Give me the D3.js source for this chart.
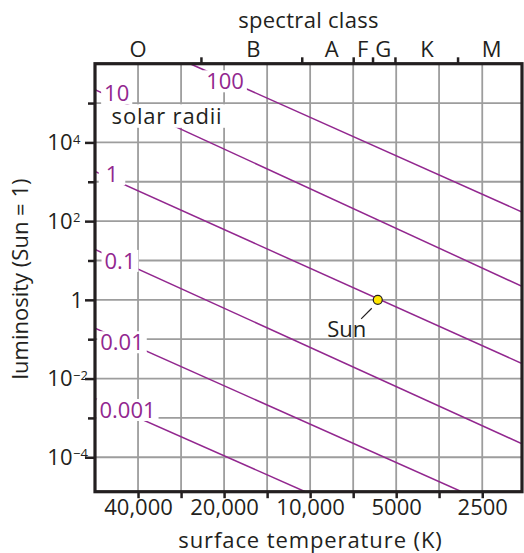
<!DOCTYPE html>
<html lang="en">

<head>
    <meta charset="utf-8">
    <title>solar radii</title>
    <script src="https://cdn.jsdelivr.net/npm/d3@7"></script>
    <style>
        body {
            margin: 0;
            background: #fff;
        }

        svg text {
            font-family: "Open Sans", sans-serif;
        }
    </style>
</head>

<body>
    <script>
        // temperature grid (K), one line every half octave
        var gridTemps = [40000, 28280, 20000, 14140, 10000, 7070, 5000, 3540, 2500];
        var tempLabels = [40000, 20000, 10000, 5000, 2500];
        // luminosity grid, powers of ten
        var lumExps = [-4, -3, -2, -1, 0, 1, 2, 3, 4, 5];
        var lumLabelExps = [-4, -2, 0, 2, 4];
        // spectral classes: label positions and boundaries (K)
        var classNames = ['O', 'B', 'A', 'F', 'G', 'K', 'M'];
        var classTemps = [40000, 15800, 8400, 6550, 5550, 3900, 2320];
        var classBounds = [24100, 10700, 7070, 6050, 5050, 3050];
        // lines of constant radius, [T, L] at both ends
        var radii = [100, 10, 1, 0.1, 0.01, 0.001];
        var radiusStart = [[26300, 1e6], [56570, 2.2e5], [56570, 1820], [56570, 19], [56570, 0.19], [56570, 0.0031]];
        var radiusEnd = [[1815, 170], [1815, 2.2], [1815, 0.024], [1815, 2.2e-4], [2950, 1.33e-5], [10400, 1.33e-5]];
        var sun = [5800, 1];

        var W = 524, H = 553;
        var plot = { left: 95, right: 522, top: 63.7, bottom: 491.7 };
        var ink = '#231f20', purple = '#92278f', gridColor = '#9d9d9d';

        var svg = d3.select('body').append('svg')
            .attr('width', W)
            .attr('height', H);

        var x = d3.scaleLog().domain([56570, 1815]).range([plot.left, plot.right]);
        var y = d3.scaleLog().domain([1e6, Math.pow(10, -4.875)]).range([plot.top, plot.bottom]);

        svg.append('defs').append('clipPath').attr('id', 'clip')
            .append('rect')
            .attr('x', plot.left).attr('y', plot.top)
            .attr('width', plot.right - plot.left)
            .attr('height', plot.bottom - plot.top);

        // grid
        var grid = svg.append('g').attr('stroke', gridColor).attr('stroke-width', 1.8);
        grid.selectAll('line.v').data(gridTemps).enter().append('line')
            .attr('class', 'v')
            .attr('x1', d => x(d)).attr('x2', d => x(d))
            .attr('y1', plot.top).attr('y2', plot.bottom);
        grid.selectAll('line.h').data(lumExps).enter().append('line')
            .attr('class', 'h')
            .attr('x1', plot.left).attr('x2', plot.right)
            .attr('y1', e => y(Math.pow(10, e))).attr('y2', e => y(Math.pow(10, e)));

        // radius lines
        var lines = radii.map((r, i) => ({
            r: r,
            p0: [x(radiusStart[i][0]), y(radiusStart[i][1])],
            p1: [x(radiusEnd[i][0]), y(radiusEnd[i][1])]
        }));
        svg.append('g')
            .attr('clip-path', 'url(#clip)')
            .selectAll('line')
            .data(lines)
            .enter().append('line')
            .attr('x1', d => d.p0[0]).attr('y1', d => d.p0[1])
            .attr('x2', d => d.p1[0]).attr('y2', d => d.p1[1])
            .attr('stroke', purple)
            .attr('stroke-width', 1.5);

        function yOn(d, px) {
            var t = (px - d.p0[0]) / (d.p1[0] - d.p0[0]);
            return d.p0[1] + t * (d.p1[1] - d.p0[1]);
        }

        // label centre x and vertical nudge from the line
        var labelPlace = [[225, 2], [116.7, -6.6], [112, -5], [120, 0], [122, 2], [127.5, -3]];
        var labelPad = [3, 3, 7, 3, 3, 3];
        var labs = svg.append('g').selectAll('g')
            .data(lines)
            .enter().append('g')
            .attr('transform', (d, i) => `translate(${labelPlace[i][0]},${yOn(d, labelPlace[i][0]) + labelPlace[i][1]})`);
        labs.append('rect').attr('fill', '#fff');
        labs.append('text')
            .attr('text-anchor', 'middle')
            .attr('dy', '0.357em')
            .style('font-size', '22px')
            .style('fill', purple)
            .text(d => d.r);
        labs.each(function (d, i) {
            var g = d3.select(this);
            var w = g.select('text').node().getComputedTextLength();
            g.select('rect')
                .attr('x', -w / 2 - labelPad[i]).attr('width', w + 2 * labelPad[i])
                .attr('y', -11).attr('height', 22);
        });

        // "solar radii"
        var sr = svg.append('g').attr('transform', 'translate(167,115.8)');
        var srRect = sr.append('rect').attr('fill', '#fff');
        var srText = sr.append('text')
            .attr('text-anchor', 'middle')
            .attr('dy', '0.357em')
            .style('font-size', '22px')
            .style('letter-spacing', '0.8px')
            .style('fill', ink)
            .text('solar radii');
        var srW = srText.node().getComputedTextLength();
        srRect.attr('x', -srW / 2 - 3).attr('width', srW + 6).attr('y', -11.5).attr('height', 23.5);

        // Sun
        var sx = x(sun[0]), sy = y(sun[1]);
        svg.append('line')
            .attr('x1', sx - 6).attr('y1', sy + 8.4)
            .attr('x2', sx - 16.6).attr('y2', sy + 19)
            .attr('stroke', ink).attr('stroke-width', 1.2);
        svg.append('circle')
            .attr('cx', sx).attr('cy', sy).attr('r', 4.5)
            .attr('fill', '#ffe600')
            .attr('stroke', ink).attr('stroke-width', 1.2);
        svg.append('text')
            .attr('x', sx - 31).attr('y', sy + 37)
            .attr('text-anchor', 'middle')
            .style('font-size', '22px')
            .style('fill', ink)
            .text('Sun');

        // bottom axis
        var xAxis = d3.axisBottom(x)
            .tickValues(gridTemps)
            .tickSize(6.5)
            .tickFormat(d => tempLabels.indexOf(d) >= 0 ? (d >= 10000 ? d3.format(',')(d) : d) : '');
        var gx = svg.append('g').attr('transform', `translate(0,${plot.bottom})`).call(xAxis);
        gx.select('.domain').remove();
        gx.selectAll('.tick line').attr('stroke', ink).attr('stroke-width', 2.5);
        gx.selectAll('.tick text')
            .attr('y', 23.3).attr('dy', 0)
            .style('font-size', '22px')
            .style('fill', ink);

        // top axis: spectral class boundaries
        var topAxis = d3.axisTop(x).tickValues(classBounds).tickSize(6.4).tickFormat('');
        var gt = svg.append('g').attr('transform', `translate(0,${plot.top})`).call(topAxis);
        gt.select('.domain').remove();
        gt.selectAll('.tick line').attr('stroke', ink).attr('stroke-width', 2.5);

        svg.append('g').selectAll('text')
            .data(classNames)
            .enter().append('text')
            .attr('x', (d, i) => x(classTemps[i]))
            .attr('y', 57.3)
            .attr('text-anchor', 'middle')
            .style('font-size', '22px')
            .style('fill', ink)
            .text(d => d);

        // left axis
        var yAxis = d3.axisLeft(y)
            .tickValues(lumExps.map(e => Math.pow(10, e)))
            .tickSize(10)
            .tickFormat('');
        var gy = svg.append('g').attr('transform', `translate(${plot.left},0)`).call(yAxis);
        gy.select('.domain').remove();
        gy.selectAll('.tick line')
            .attr('x2', d => lumLabelExps.indexOf(Math.round(Math.log10(d))) >= 0 ? -10 : -7)
            .attr('stroke', ink).attr('stroke-width', 2.5);

        var yl = svg.append('g').selectAll('g')
            .data(lumLabelExps)
            .enter().append('g')
            .attr('transform', e => `translate(0,${y(Math.pow(10, e))})`);
        yl.append('text')
            .attr('x', e => e === 0 ? 83 : 72.5)
            .attr('dy', '0.36em')
            .attr('text-anchor', 'end')
            .style('font-size', '22px')
            .style('fill', ink)
            .text(e => e === 0 ? '1' : '10');
        yl.filter(e => e !== 0).append('text')
            .attr('x', 73)
            .attr('dy', 1.2)
            .style('font-size', '13px')
            .style('fill', ink)
            .text(e => e < 0 ? '\u2212' + (-e) : e);

        // frame
        svg.append('rect')
            .attr('x', plot.left).attr('y', plot.top)
            .attr('width', plot.right - plot.left)
            .attr('height', plot.bottom - plot.top)
            .attr('fill', 'none')
            .attr('stroke', ink)
            .attr('stroke-width', 3.2);

        // titles
        svg.append('text')
            .attr('x', 308.5).attr('y', 28.3)
            .attr('text-anchor', 'middle')
            .style('font-size', '22px').style('letter-spacing', '0.3px').style('fill', ink)
            .text('spectral class');
        svg.append('text')
            .attr('x', 310.5).attr('y', 548)
            .attr('text-anchor', 'middle')
            .style('font-size', '22px').style('letter-spacing', '0.9px').style('fill', ink)
            .text('surface temperature (K)');
        svg.append('text')
            .attr('transform', 'translate(28.3,279) rotate(-90)')
            .attr('text-anchor', 'middle')
            .style('font-size', '22px').style('fill', ink)
            .text('luminosity (Sun = 1)');
    </script>
</body>

</html>
